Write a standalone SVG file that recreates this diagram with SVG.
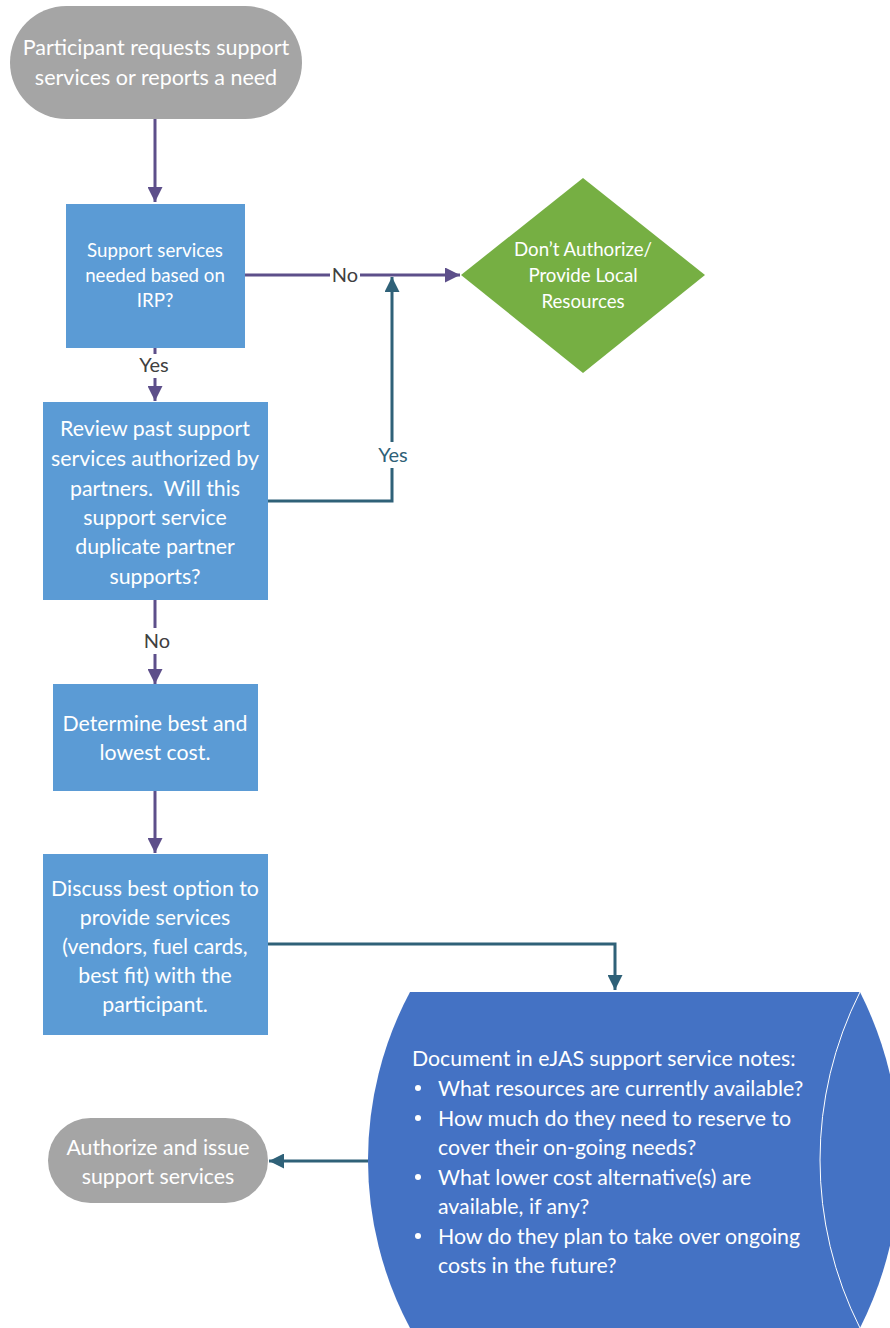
<svg xmlns="http://www.w3.org/2000/svg" width="890" height="1328" viewBox="0 0 890 1328">
<style>
.t{font-family:Lato,"Liberation Sans",sans-serif;fill:#fff;text-anchor:middle}
.lbl{font-family:Lato,"Liberation Sans",sans-serif;font-size:20px;text-anchor:middle}
.p{stroke:#5D4F8A;stroke-width:3;fill:none}
.q{stroke:#2F6178;stroke-width:3;fill:none}
</style>
<defs>
<marker id="ap" viewBox="0 0 10 10" refX="10" refY="5" markerWidth="5" markerHeight="5" orient="auto" markerUnits="strokeWidth"><path d="M0,0L10,5L0,10z" fill="#5D4F8A"/></marker>
<marker id="aq" viewBox="0 0 10 10" refX="10" refY="5" markerWidth="5" markerHeight="5" orient="auto" markerUnits="strokeWidth"><path d="M0,0L10,5L0,10z" fill="#2F6178"/></marker>
</defs>
<rect width="890" height="1328" fill="#fff"/>
<g id="connectors">
<path class="p" d="M155,119V202" marker-end="url(#ap)"/>
<path class="p" d="M245,275H460" marker-end="url(#ap)"/>
<rect x="330" y="263" width="30" height="24" fill="#fff"/>
<text class="lbl" x="345" y="282" fill="#404040">No</text>
<path class="q" d="M268,501H392V277" marker-end="url(#aq)"/>
<rect x="374" y="442" width="36" height="26" fill="#fff"/>
<text class="lbl" x="393" y="462" fill="#2F6178">Yes</text>
<path class="p" d="M155,348V401" marker-end="url(#ap)"/>
<rect x="135" y="354" width="40" height="24" fill="#fff"/>
<text class="lbl" x="154" y="372" fill="#404040">Yes</text>
<path class="p" d="M155,600V684" marker-end="url(#ap)"/>
<rect x="140" y="628" width="32" height="26" fill="#fff"/>
<text class="lbl" x="157" y="648" fill="#404040">No</text>
<path class="p" d="M155,791V853" marker-end="url(#ap)"/>
<path class="q" d="M268,944H615V990" marker-end="url(#aq)"/>
<path class="q" d="M368,1161H269" marker-end="url(#aq)"/>
</g>
<g id="start">
<rect x="10" y="6" width="292" height="113" rx="56.5" fill="#A5A5A5"/>
<text class="t" font-size="21.5"><tspan x="156" y="55">Participant requests support</tspan><tspan x="156" y="85">services or reports a need</tspan></text>
</g>
<g id="needed">
<rect x="66" y="204" width="179" height="144" fill="#5B9BD5"/>
<text class="t" font-size="18.7"><tspan x="155" y="257">Support services</tspan><tspan x="155" y="282">needed based on</tspan><tspan x="155" y="307">IRP?</tspan></text>
</g>
<g id="dont">
<path d="M583,178L705,275L583,373L461,275z" fill="#76AF43"/>
<text class="t" font-size="18.7"><tspan x="583" y="256">Don’t Authorize/</tspan><tspan x="583" y="282">Provide Local</tspan><tspan x="583" y="308">Resources</tspan></text>
</g>
<g id="review">
<rect x="43" y="402" width="225" height="198" fill="#5B9BD5"/>
<text class="t" font-size="21.3"><tspan x="155" y="436">Review past support</tspan><tspan x="155" y="466">services authorized by</tspan><tspan x="155" y="496">partners.&#160; Will this</tspan><tspan x="155" y="525">support service</tspan><tspan x="155" y="554">duplicate partner</tspan><tspan x="155" y="584">supports?</tspan></text>
</g>
<g id="determine">
<rect x="53" y="684" width="205" height="107" fill="#5B9BD5"/>
<text class="t" font-size="21.3"><tspan x="155" y="731">Determine best and</tspan><tspan x="155" y="760">lowest cost.</tspan></text>
</g>
<g id="discuss">
<rect x="43" y="854" width="225" height="181" fill="#5B9BD5"/>
<text class="t" font-size="21.3"><tspan x="155" y="896">Discuss best option to</tspan><tspan x="155" y="925">provide services</tspan><tspan x="155" y="954">(vendors, fuel cards,</tspan><tspan x="155" y="983">best fit) with the</tspan><tspan x="155" y="1012">participant.</tspan></text>
</g>
<g id="document">
<path d="M410,992H860A373,373 0 0 1 860,1328H410A357,357 0 0 1 410,992z" fill="#4472C4"/>
<path d="M860,992A373,373 0 0 0 860,1328" fill="none" stroke="#fff" stroke-width="1"/>
<g font-family="Lato,'Liberation Sans',sans-serif" font-size="21.3" fill="#fff">
<text x="412" y="1066">Document in eJAS support service notes:</text>
<circle cx="418" cy="1088" r="3"/><text x="438" y="1096">What resources are currently available?</text>
<circle cx="418" cy="1118" r="3"/><text x="438" y="1126">How much do they need to reserve to</text>
<text x="438" y="1155">cover their on-going needs?</text>
<circle cx="418" cy="1177" r="3"/><text x="438" y="1185">What lower cost alternative(s) are</text>
<text x="438" y="1214">available, if any?</text>
<circle cx="418" cy="1236" r="3"/><text x="438" y="1244">How do they plan to take over ongoing</text>
<text x="438" y="1273">costs in the future?</text>
</g>
</g>
<g id="authorize">
<rect x="48" y="1118" width="220" height="85" rx="42.5" fill="#A5A5A5"/>
<text class="t" font-size="21.3"><tspan x="158" y="1155">Authorize and issue</tspan><tspan x="158" y="1184">support services</tspan></text>
</g>
</svg>
